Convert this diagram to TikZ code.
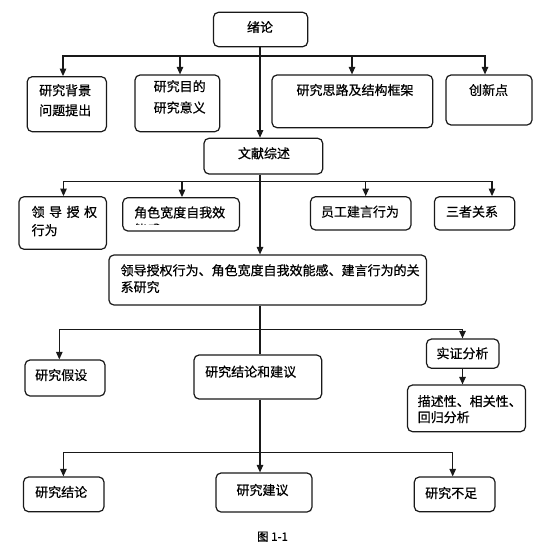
\documentclass[tikz,border=0pt]{standalone}
\usepackage{fontspec}
\newfontfamily\cjk[FakeBold=0.6]{Noto Sans CJK SC}
\usetikzlibrary{arrows.meta}
\begin{document}
\begin{tikzpicture}[x=1pt,y=-1pt,
  box/.style={draw=black!90, line width=1.2pt, rounded corners=5pt, inner sep=0pt},
  txt/.style={inner sep=0pt, font=\cjk\fontsize{13}{13}\selectfont},
  mtxt/.style={inner sep=0pt, anchor=north west, align=left, font=\cjk\fontsize{13}{#1}\selectfont},
  conn/.style={line width=1.1pt, draw=black!90},
  arr/.style={conn, -{Triangle[length=7.5pt,width=6.5pt]}},
  dbl/.style={conn, {Triangle[length=7.5pt,width=6.5pt]}-{Triangle[length=7.5pt,width=6.5pt]}}]
\useasboundingbox (0,0) rectangle (547,548);
\coordinate (ax) at (260,0);

% ---- level 0 / 1
\node[box, minimum width=94.2pt, minimum height=34.4pt] (n0) at (260.6,29.5) {};
\node[txt] (n0t) at (260,27) {绪论};

\node[box, minimum width=79.2pt, minimum height=55pt] (b1) at (66.8,104.2) {};
\node[mtxt=20pt] (b1t) at (39,84) {研究背景\\问题提出};
\node[box, minimum width=84.8pt, minimum height=56.7pt] (b2) at (177.4,103.35) {};
\node[mtxt=21.3pt] (b2t) at (153.5,80) {研究目的\\研究意义};
\node[box, minimum width=160.7pt, minimum height=52.7pt] (b3) at (352.35,101.35) {};
\node[txt] (b3t) at (355,90) {研究思路及结构框架};
\node[box, minimum width=86pt, minimum height=50pt] (b4) at (489,100) {};
\node[txt] (b4t) at (488.6,90) {创新点};

\node[box, minimum width=118.7pt, minimum height=35.7pt] (wx) at (263.35,156.15) {};
\node[txt] (wxt) at (264,153.3) {文献综述};

\coordinate (h1a) at (63,56);
\coordinate (h1b) at (485,56);
\coordinate (h1c) at (180,56);
\coordinate (h1d) at (352,56);
\draw[arr] (n0.south -| ax) -- (wx.north -| ax);
\draw[dbl] (h1a |- b1.north) -- (h1a) -- (h1b) -- (h1b |- b4.north);
\draw[arr] (h1c) -- (h1c |- b2.north);
\draw[arr] (h1d) -- (h1d |- b3.north);

% ---- level 2
\node[box, minimum width=87.4pt, minimum height=52.6pt] (c1) at (62.7,223) {};
\node[mtxt=18.3pt] (c1t) at (31.4,205.7) {领\hspace{4.5pt}导\hspace{4.5pt}授\hspace{4.5pt}权\\行为};
\node[box, minimum width=116.6pt, minimum height=33.3pt] (c2) at (181.1,214.35) {};
\node[txt, anchor=west] (c2t) at (134,212.5) {角色宽度自我效};
\begin{scope}
  \clip (120,221.5) rectangle (240,224.5);
  \node[txt, anchor=west] (c2u) at (134,229.5) {能感};
\end{scope}
\node[box, minimum width=100.5pt, minimum height=33.3pt] (c3) at (360.75,213.35) {};
\node[txt] (c3t) at (360,211.7) {员工建言行为};
\node[box, minimum width=80.3pt, minimum height=33.3pt] (c4) at (474.55,213.35) {};
\node[txt] (c4t) at (472,211.7) {三者关系};

\node[box, minimum width=317.5pt, minimum height=50pt] (big) at (267.65,280) {};
\node[mtxt=16.7pt] (bigt) at (120.4,264) {领导授权行为、角色宽度自我效能感、建言行为的关\\系研究};

\coordinate (h2a) at (63.5,181.7);
\coordinate (h2b) at (492,181.7);
\coordinate (h2c) at (182,181.7);
\coordinate (h2d) at (365.7,181.7);
\draw[arr] (wx.south -| ax) -- (big.north -| ax);
\draw[dbl] (h2a |- c1.north) -- (h2a) -- (h2b) -- (h2b |- c4.north);
\draw[arr] (h2c) -- (h2c |- c2.north);
\draw[arr] (h2d) -- (h2d |- c3.north);

% ---- level 3
\node[box, minimum width=80pt, minimum height=36pt] (d1) at (65,378) {};
\node[txt, anchor=west] (d1t) at (35,375) {研究假设};
\node[box, minimum width=127.7pt, minimum height=44pt] (d2) at (257.85,377) {};
\node[txt, anchor=west] (d2t) at (205,371.7) {研究结论和建议};
\node[box, minimum width=72.5pt, minimum height=29.3pt] (d3) at (462.75,353.65) {};
\node[txt] (d3t) at (462.5,353.3) {实证分析};
\node[box, minimum width=118pt, minimum height=46.7pt] (d4) at (466.5,408.35) {};
\node[mtxt=16pt] (d4t) at (417.5,395) {描述性、相关性、\\回归分析};

\coordinate (h3a) at (59.3,329.3);
\coordinate (h3b) at (462.5,329.3);
\draw[conn] (big.south -| ax) -- (d2.north -| ax);
\draw[dbl] (h3a |- d1.north) -- (h3a) -- (h3b) -- (h3b |- d3.north);
\draw[arr] (d3.south -| h3b) -- (d4.north -| h3b);

% ---- level 4
\node[box, minimum width=80.5pt, minimum height=34.7pt] (e1) at (63.75,494.35) {};
\node[txt, anchor=west] (e1t) at (35,492) {研究结论};
\node[box, minimum width=96pt, minimum height=39pt] (e2) at (264,492.5) {};
\node[txt] (e2t) at (262.5,490) {研究建议};
\node[box, minimum width=80.7pt, minimum height=34.7pt] (e3) at (454.65,494.35) {};
\node[txt, anchor=west] (e3t) at (425,493) {研究不足};

\coordinate (h4a) at (63.4,452.3);
\coordinate (h4b) at (452.7,452.3);
\draw[arr] (d2.south -| ax) -- (e2.north -| ax);
\draw[dbl] (h4a |- e1.north) -- (h4a) -- (h4b) -- (h4b |- e3.north);

\node[inner sep=0pt, font=\cjk\fontsize{11.5}{11.5}\selectfont] (cap) at (272.5,536.7) {图 1-1};
\end{tikzpicture}
\end{document}
